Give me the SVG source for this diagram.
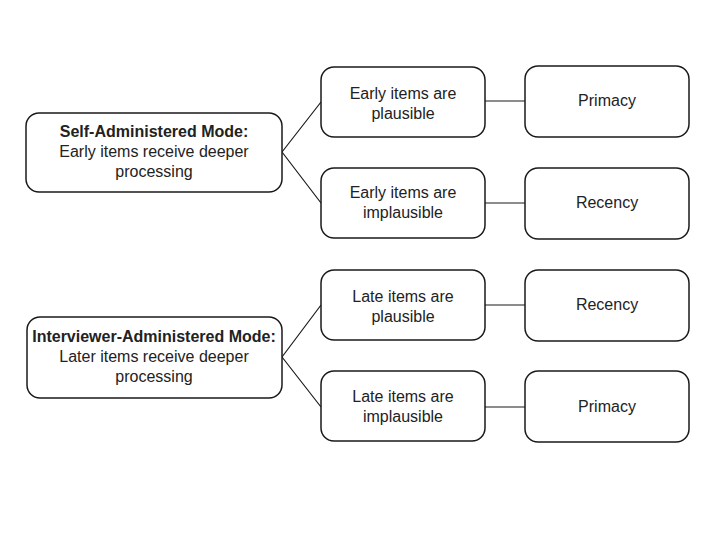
<svg xmlns="http://www.w3.org/2000/svg" width="720" height="540" viewBox="0 0 720 540">
<style>
.box{fill:#fff;stroke:#1a1a1a;stroke-width:1.5}
.t{font-family:"Liberation Sans",Arial,sans-serif;font-size:16px;fill:#222;text-anchor:middle}
.b{font-weight:bold}
.c{stroke:#1a1a1a;stroke-width:1.2;fill:none}
</style>
<rect width="720" height="540" fill="#fff"/>
<g id="connectors">
<path class="c" d="M282 152 L321 102 M282 152 L321 203"/>
<path class="c" d="M282 357 L321 305 M282 357 L321 407"/>
<path class="c" d="M485 101 L525 101 M485 203 L525 203 M485 305 L525 305 M485 407 L525 407"/>
</g>
<g id="self">
<rect class="box" x="26" y="113" width="256" height="79" rx="13"/>
<text class="t b" x="154" y="137">Self-Administered Mode:</text>
<text class="t" x="154" y="157">Early items receive deeper</text>
<text class="t" x="154" y="177">processing</text>
</g>
<g id="interviewer">
<rect class="box" x="27" y="317" width="255" height="81" rx="13"/>
<text class="t b" x="154" y="342">Interviewer-Administered Mode:</text>
<text class="t" x="154" y="362">Later items receive deeper</text>
<text class="t" x="154" y="382">processing</text>
</g>
<g id="early-plausible">
<rect class="box" x="321" y="67" width="164" height="70" rx="13"/>
<text class="t" x="403" y="99">Early items are</text>
<text class="t" x="403" y="119">plausible</text>
</g>
<g id="early-implausible">
<rect class="box" x="321" y="168" width="164" height="70" rx="13"/>
<text class="t" x="403" y="198">Early items are</text>
<text class="t" x="403" y="218">implausible</text>
</g>
<g id="late-plausible">
<rect class="box" x="321" y="270" width="164" height="70" rx="13"/>
<text class="t" x="403" y="302">Late items are</text>
<text class="t" x="403" y="322">plausible</text>
</g>
<g id="late-implausible">
<rect class="box" x="321" y="371" width="164" height="70" rx="13"/>
<text class="t" x="403" y="402">Late items are</text>
<text class="t" x="403" y="422">implausible</text>
</g>
<g id="primacy1">
<rect class="box" x="525" y="66" width="164" height="71" rx="13"/>
<text class="t" x="607" y="106">Primacy</text>
</g>
<g id="recency1">
<rect class="box" x="525" y="168" width="164" height="71" rx="13"/>
<text class="t" x="607" y="208">Recency</text>
</g>
<g id="recency2">
<rect class="box" x="525" y="270" width="164" height="71" rx="13"/>
<text class="t" x="607" y="310">Recency</text>
</g>
<g id="primacy2">
<rect class="box" x="525" y="371" width="164" height="71" rx="13"/>
<text class="t" x="607" y="412">Primacy</text>
</g>
</svg>
